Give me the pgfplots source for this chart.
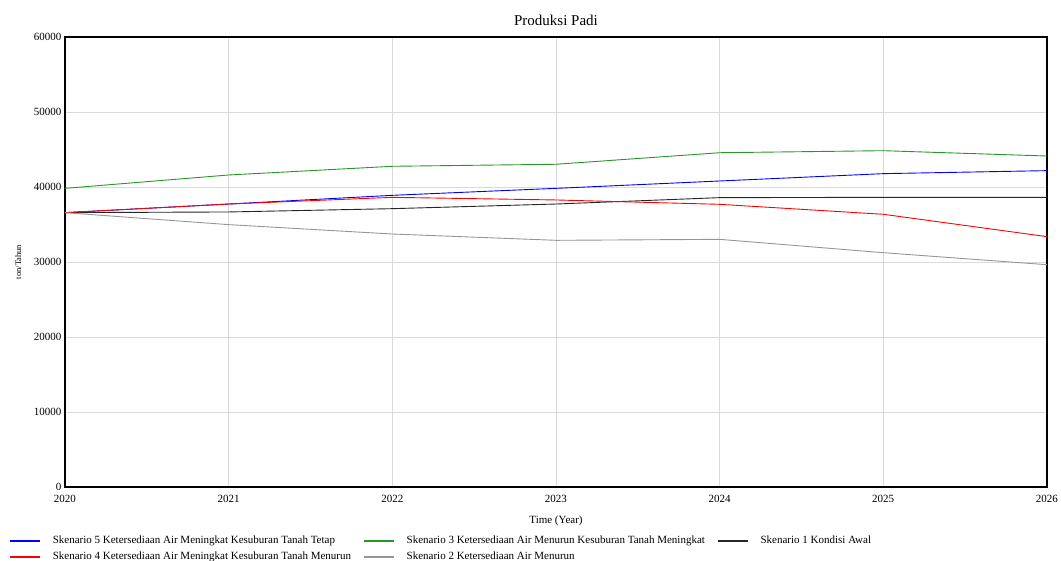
\documentclass[border=0pt]{standalone}
\usepackage{pgfplots}
\pgfplotsset{compat=1.18}
\usepackage{fontspec}
\setmainfont{Liberation Serif}
\definecolor{cgreen}{RGB}{40,150,40}
\definecolor{cgray}{RGB}{150,150,150}
\definecolor{cgrid}{RGB}{218,218,218}
\begin{document}
\begin{tikzpicture}
\begin{axis}[
  name=ax,
  scale only axis,
  width=982pt, height=450pt,
  xmin=2020, xmax=2026, ymin=0, ymax=60000,
  xtick={2020,...,2026},
  ytick={0,10000,...,60000},
  /pgf/number format/assume math mode=true,
  xticklabel style={/pgf/number format/1000 sep={}, font=\fontsize{11}{13}\selectfont, yshift=-5pt},
  yticklabel style={/pgf/number format/1000 sep={}, font=\fontsize{11}{13}\selectfont},
  scaled y ticks=false,
  tick style={draw=none},
  grid=major,
  major grid style={cgrid, line width=0.8pt},
  axis line style={black, line width=1.3pt},
  title={Produksi Padi},
  title style={font=\fontsize{15}{17}\selectfont, yshift=2pt},
  xlabel={Time (Year)},
  xlabel style={font=\fontsize{11}{13}\selectfont, yshift=-6pt},
  ylabel={ton/Tahun},
  ylabel style={font=\fontsize{8.5}{10}\selectfont, yshift=6pt},
  legend columns=3,
  legend style={draw=none, at={(axis description cs:0,0)}, anchor=north west,
    xshift=-59pt, yshift=-45pt, font=\fontsize{11}{13}\selectfont,
    row sep=3pt,
    /tikz/every odd column/.append style={column sep=10pt},
    /tikz/every even column/.append style={column sep=10pt}},
  legend cell align=left,
  legend image code/.code={\draw[#1, line width=1.6pt] (0pt,0pt) -- (30pt,0pt);},
  every axis plot/.append style={line width=0.9pt},
]
\addplot[blue] coordinates {(2020,36580) (2021,37730) (2022,38890) (2023,39820) (2024,40800) (2025,41780) (2026,42180)};
\addlegendentry{Skenario 5 Ketersediaan Air Meningkat Kesuburan Tanah Tetap}
\addplot[cgreen] coordinates {(2020,39820) (2021,41600) (2022,42760) (2023,43030) (2024,44570) (2025,44840) (2026,44130)};
\addlegendentry{Skenario 3 Ketersediaan Air Menurun Kesuburan Tanah Meningkat}
\addplot[black!85] coordinates {(2020,36580) (2021,36670) (2022,37110) (2023,37730) (2024,38580) (2025,38620) (2026,38620)};
\addlegendentry{Skenario 1 Kondisi Awal}
\addplot[red] coordinates {(2020,36580) (2021,37730) (2022,38620) (2023,38270) (2024,37690) (2025,36360) (2026,33380)};
\addlegendentry{Skenario 4 Ketersediaan Air Meningkat Kesuburan Tanah Menurun}
\addplot[cgray] coordinates {(2020,36580) (2021,34980) (2022,33730) (2023,32890) (2024,33020) (2025,31240) (2026,29640)};
\addlegendentry{Skenario 2 Ketersediaan Air Menurun}
\end{axis}
\pgfresetboundingbox
\path ([shift={(-65pt,-74pt)}]ax.south west) rectangle ([shift={(14pt,37pt)}]ax.north east);
\end{tikzpicture}
\end{document}
